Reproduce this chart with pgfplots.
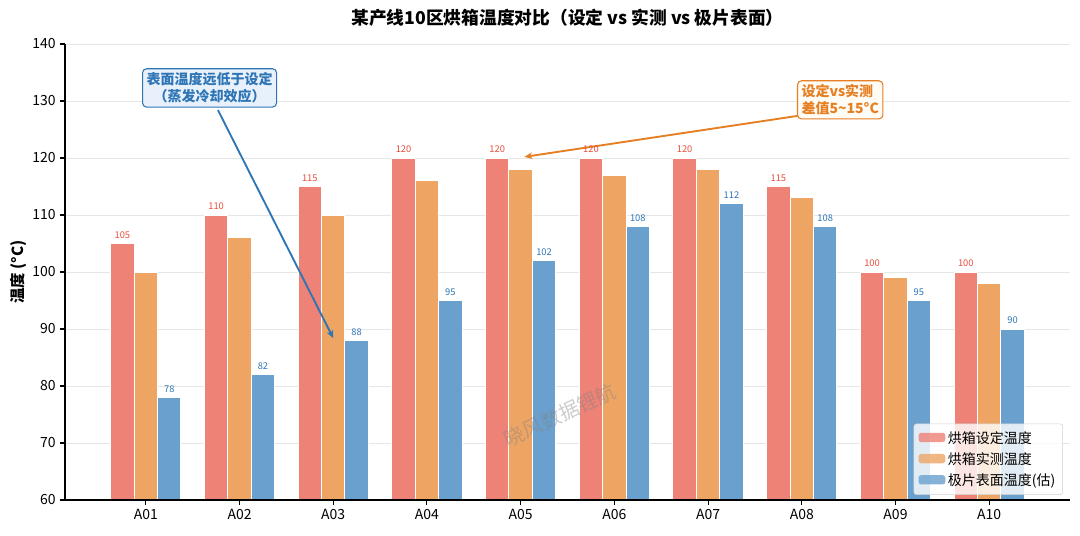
\documentclass[border=0pt]{standalone}
\usepackage{fontspec}
\setmainfont{Noto Sans CJK SC}
\usepackage{pgfplots}
\pgfplotsset{compat=1.18}
\usetikzlibrary{arrows.meta}
\definecolor{cset}{RGB}{238,130,118}
\definecolor{cact}{RGB}{238,165,100}
\definecolor{csur}{RGB}{106,160,205}
\definecolor{tred}{RGB}{231,76,60}
\definecolor{tblue}{RGB}{46,117,182}
\definecolor{torange}{RGB}{230,126,34}
\definecolor{gridc}{RGB}{230,230,230}
\definecolor{boxblue}{RGB}{232,241,251}
\definecolor{boxorange}{RGB}{255,251,245}
\begin{document}
\begin{tikzpicture}[x=1pt,y=1pt]
\useasboundingbox (0,0) rectangle (810,401.25);
\begin{axis}[at={(48.75pt,26.25pt)}, anchor=south west, scale only axis,
  width=753.75pt, height=342pt,
  xmin=-0.8625, xmax=9.8625, ymin=60, ymax=140,
  ytick={60,70,...,140}, xtick={0,...,9},
  xticklabels={A01,A02,A03,A04,A05,A06,A07,A08,A09,A10},
  axis x line=bottom, axis y line=left,
  axis line style={-, black, line width=0.8pt},
  tick style={black, line width=0.8pt}, tick align=outside, major tick length=3.5pt,
  /pgf/number format/assume math mode=true,
  every tick label/.append style={font=\fontsize{10.5}{12}\selectfont},
  ymajorgrids, major grid style={gridc, line width=0.6pt},
  clip=false,
  legend cell align=left,
  legend image code/.code={\fill[#1, draw=none] (0pt,-3pt) rectangle (20pt,4pt);},
  legend style={at={(0.993,0.011)}, anchor=south east, draw=gray!35, fill=white,
    fill opacity=0.8, text opacity=1, rounded corners=2pt,
    font=\fontsize{10.5}{13}\selectfont, row sep=1.5pt, inner sep=3.5pt},
]
\addplot[ybar, bar width=0.25, bar shift=0pt, fill=cset, draw=white, line width=0.8pt,
  nodes near coords, nodes near coords style={font=\fontsize{7}{8}\selectfont, text=tred}]
  coordinates {(-0.25,105) (0.75,110) (1.75,115) (2.75,120) (3.75,120) (4.75,120) (5.75,120) (6.75,115) (7.75,100) (8.75,100)};
\addlegendentry{烘箱设定温度}
\addplot[ybar, bar width=0.25, bar shift=0pt, fill=cact, draw=white, line width=0.8pt]
  coordinates {(0,100) (1,106) (2,110) (3,116) (4,118) (5,117) (6,118) (7,113) (8,99) (9,98)};
\addlegendentry{烘箱实测温度}
\addplot[ybar, bar width=0.25, bar shift=0pt, fill=csur, draw=white, line width=0.8pt,
  nodes near coords, nodes near coords style={font=\fontsize{7}{8}\selectfont, text=tblue}]
  coordinates {(0.25,78) (1.25,82) (2.25,88) (3.25,95) (4.25,102) (5.25,108) (6.25,112) (7.25,108) (8.25,95) (9.25,90)};
\addlegendentry{极片表面温度(估)}

\draw[black, line width=0.8pt] (rel axis cs:0,0) -- (rel axis cs:1,0);

\node[font=\bfseries\fontsize{13.3}{15}\selectfont] at (rel axis cs:0.5,1) [yshift=19.5pt]
  {某产线10区烘箱温度对比（设定 vs 实测 vs 极片表面）};
\node[xshift=-35pt, rotate=90, font=\bfseries\fontsize{11.5}{13}\selectfont] at (rel axis cs:0,0.5)
  {温度 (°C)};

\node[rotate=25, text=gray, opacity=0.4, font=\fontsize{15}{17}\selectfont] at (axis cs:4.42,74.9) {晓风数据锂航};

\draw[-{Stealth[length=6pt,width=5pt]}, tblue, line width=1.4pt] (axis cs:0.77,128.4) -- (axis cs:2.0,88.4);
\node[draw=tblue, fill=boxblue, rounded corners=3pt, text=tblue, line width=0.8pt,
  font=\bfseries\fontsize{10.5}{12.5}\selectfont, align=center, inner sep=3pt]
  at (axis cs:0.68,132.3) {表面温度远低于设定\\（蒸发冷却效应）};

\draw[-{Stealth[length=6pt,width=5pt]}, torange, line width=1.4pt] (axis cs:6.96,127.4) -- (axis cs:4.04,120.2);
\node[draw=torange, fill=boxorange, rounded corners=3pt, text=torange, line width=0.8pt,
  font=\bfseries\fontsize{10.5}{12.5}\selectfont, align=left, inner sep=3pt]
  at (axis cs:7.41,130.2) {设定vs实测\\差值5\textasciitilde15°C};
\end{axis}
\end{tikzpicture}
\end{document}
